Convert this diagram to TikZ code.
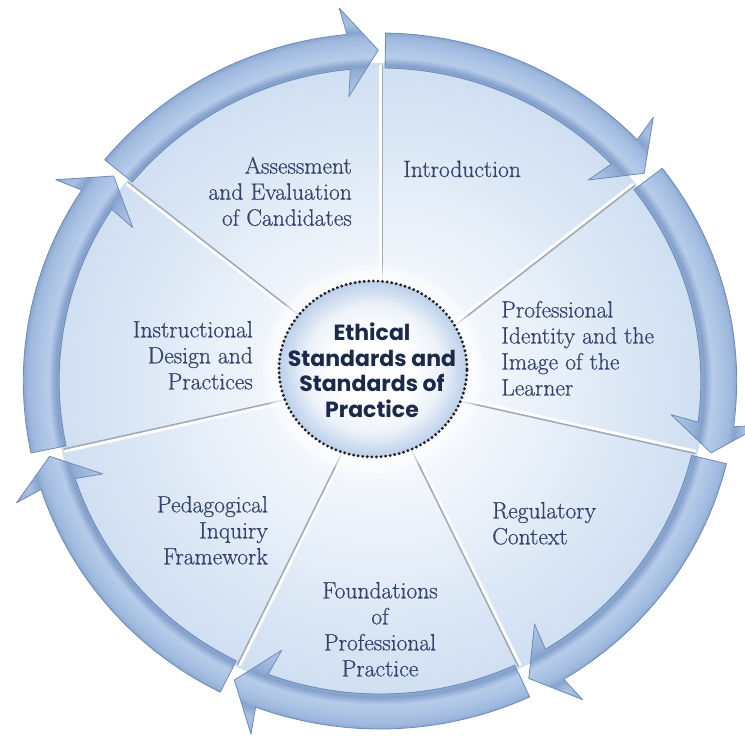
\documentclass[tikz,border=0pt]{standalone}
\usepackage{fontspec}
\newfontfamily\censans{Poppins}
\newfontfamily\labfont{Latin Modern Roman}[FakeBold=0.6]
\usetikzlibrary{shapes.geometric}
\definecolor{labelc}{HTML}{33436A}
\definecolor{centc}{HTML}{1B2A4A}
\definecolor{ringedgec}{HTML}{6D8BB8}
\definecolor{divgrey}{HTML}{9FA8B5}
\definecolor{dA}{HTML}{F8FAFE}
\definecolor{dB}{HTML}{E4EDF8}
\definecolor{dC}{HTML}{CFDEF1}
\definecolor{rA}{HTML}{9CB6DC}
\definecolor{rB}{HTML}{B4C9E8}
\definecolor{rC}{HTML}{94AFD6}
\definecolor{rD}{HTML}{84A0CB}
\definecolor{rE}{HTML}{B7CCEA}
\definecolor{rF}{HTML}{AAC2E4}
\definecolor{rG}{HTML}{9EB8DD}
\definecolor{rH}{HTML}{88A4CE}
\definecolor{rI}{HTML}{A9C0E2}
\definecolor{rJ}{HTML}{93AED5}
\definecolor{cA}{HTML}{FFFFFF}
\definecolor{cB}{HTML}{EEF3FA}
\definecolor{cC}{HTML}{BCCFE9}
\pgfdeclareradialshading{diskshade}{\pgfpointorigin}{color(0bp)=(white); color(6bp)=(dA); color(15bp)=(dB); color(25bp)=(dC); color(50bp)=(dC)}
\pgfdeclareradialshading{ringshade}{\pgfpointorigin}{color(0bp)=(rA); color(18.8bp)=(rB); color(20.4bp)=(rC); color(20.8bp)=(rD); color(21.3bp)=(rE); color(22.0bp)=(rF); color(22.6bp)=(rG); color(22.95bp)=(rH); color(23.6bp)=(rI); color(24.8bp)=(rJ); color(50bp)=(rJ)}
\pgfdeclareradialshading{censhade}{\pgfpointorigin}{color(0bp)=(cA); color(10bp)=(cA); color(18bp)=(cB); color(25bp)=(cC); color(50bp)=(cC)}
\tikzset{
  lab/.style={font=\labfont\fontsize{23.5}{26}\selectfont, text=labelc, inner sep=0pt},
  ringedge/.style={draw=ringedgec, line width=0.8pt, line join=round},
  divline/.style={draw=white, line width=3pt},
  divshadow/.style={draw=divgrey, line width=1.5pt},
  centre/.style={ellipse, minimum width=188pt, minimum height=176pt, inner sep=0pt, shading=censhade},
  dotborder/.style={draw=black!88, line width=3.2pt, dash pattern=on 0pt off 4.6pt, line cap=round},
  centtext/.style={font=\censans\bfseries\fontsize{22}{25.5}\selectfont, text=centc, align=center, inner sep=0pt}
}
\begin{document}
\begin{tikzpicture}[x=1pt,y=1pt]
\useasboundingbox (0,0) rectangle (745,736);
\fill[white] (0,0) rectangle (745,736);
\coordinate (O) at (380,355);
\begin{scope}[shift={(O)}, xscale=1.025]
  \shade[shading=diskshade] (0,0) circle[radius=318];
  \foreach \k in {0,...,6}{
    \pgfmathsetmacro\d{90-51.4286*\k}
    \draw[divline] (0,0) -- (\d:316);
    \draw[divshadow, shift={({\d-90}:2.2)}] (0,0) -- (\d:316);
  }
  \foreach \k in {0,...,6}{
    \pgfmathsetmacro\a{90-51.4286*\k-0.9}
    \pgfmathsetmacro\e{90-51.4286*(\k+1)+0.3}
    \pgfmathsetmacro\b{\e+5}
    \pgfmathsetmacro\bb{\e+5.8}
    \def\arrowpath{(\a:348) arc[start angle=\a, end angle=\b, radius=348] -- (\bb:375) -- (\e:331) -- (\bb:286) -- (\b:313) arc[start angle=\b, end angle=\a, radius=313] -- cycle}
    \begin{scope}
      \clip \arrowpath;
      \shade[shading=ringshade] (0,0) circle[radius=380];
    \end{scope}
    \draw[ringedge] \arrowpath;
  }
\end{scope}
% halo around centre
\foreach \g in {16,12,8,4}{
  \fill[white, opacity=0.3] (373,367) ellipse[x radius={94+\g}, y radius={88+\g}];
}
\node[centre] (ctr) at (373,367) {};
\draw[dotborder] (ctr.center) ellipse[x radius=94, y radius=88];
\node[centtext, anchor=north] (ctrtext) at (372,413) {Ethical\\Standards and\\Standards of\\Practice};
% labels
\node[lab, anchor=base west] (intro) at (403,559) {Introduction};
\node[lab, align=left, anchor=north west] (prof) at (501,435.2) {Professional\\Identity and the\\Image of the\\Learner};
\node[lab, align=left, anchor=north west] (reg) at (492,234.2) {Regulatory\\Context};
\node[lab, align=center, anchor=north] (found) at (380,154.2) {Foundations\\of\\Professional\\Practice};
\node[lab, align=right, anchor=north east] (ped) at (268,240.2) {Pedagogical\\Inquiry\\Framework};
\node[lab, align=right, anchor=north east] (instr) at (253,415.2) {Instructional\\Design and\\Practices};
\node[lab, align=right, anchor=north east] (assess) at (352,579.2) {Assessment\\and Evaluation\\of Candidates};
\end{tikzpicture}
\end{document}
